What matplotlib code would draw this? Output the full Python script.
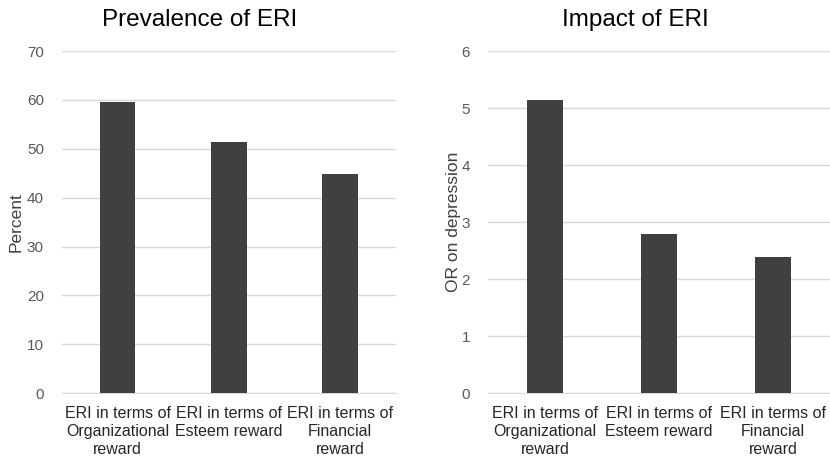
import matplotlib.pyplot as plt

plt.rcParams['font.family'] = ['Liberation Sans', 'DejaVu Sans']

categories = ["ERI in terms of\nOrganizational\nreward",
              "ERI in terms of\nEsteem reward",
              "ERI in terms of\nFinancial\nreward"]
prevalence = [59.6, 51.3, 44.9]
odds_ratio = [5.14, 2.80, 2.39]

bar_color = "#404040"
grid_color = "#d9d9d9"
tick_color = "#595959"

fig = plt.figure(figsize=(8.3, 4.57), dpi=100)
ax1 = fig.add_axes([0.0747, 0.1394, 0.402, 0.749])
ax2 = fig.add_axes([0.588, 0.1394, 0.412, 0.749])


def style(ax, values, ymax, step, ylabel):
    x = range(len(categories))
    ax.bar(x, values, width=0.32, color=bar_color, zorder=3)
    ax.set_xlim(-0.5, len(categories) - 0.5)
    ax.set_ylim(0, ymax)
    ax.set_yticks([i * step for i in range(int(round(ymax / step)) + 1)])
    ax.set_xticks(list(x))
    ax.set_xticklabels(categories, fontsize=11.5, color="#262626", linespacing=1.25)
    ax.grid(axis="y", color=grid_color, linewidth=1, zorder=0)
    for s in ax.spines.values():
        s.set_visible(False)
    ax.spines["bottom"].set_visible(True)
    ax.spines["bottom"].set_color(grid_color)
    ax.tick_params(axis="both", length=0)
    ax.tick_params(axis="y", labelsize=11, labelcolor=tick_color, pad=13)
    ax.tick_params(axis="x", pad=9)
    ax.set_ylabel(ylabel, fontsize=12.5, color="#404040")


style(ax1, prevalence, 70, 10, "Percent")
style(ax2, odds_ratio, 6, 1, "OR on depression")
ax1.yaxis.set_label_coords(-0.114, 0.5)
ax2.yaxis.set_label_coords(-0.08, 0.5)

fig.text(200 / 830, 1 - 20 / 457, "Prevalence of ERI", fontsize=17.5,
         ha="center", va="center", color="#000000")
fig.text(635 / 830, 1 - 20 / 457, "Impact of ERI", fontsize=17.5,
         ha="center", va="center", color="#000000")

plt.savefig("out.png", dpi=100)
